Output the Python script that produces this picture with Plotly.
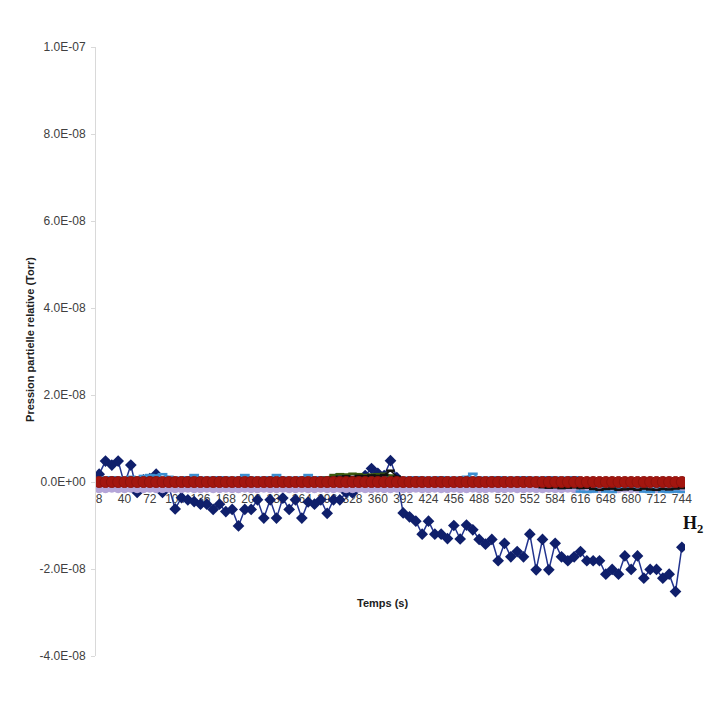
import plotly.graph_objects as go

# Time categories (s)
temps = list(range(8, 745, 8))
tick_labels = [str(v) for v in range(8, 745, 32)]

# H2 partial pressure (units of 1E-09 Torr)
h2 = [1.8, 4.8, 3.9, 4.8, -0.5, 3.9, -2.4, 0.5, 0.8, 1.8, -2.4, -1.0,
      -6.2, -3.6, -4.1, -4.5, -5.1, -5.1, -6.3, -5.1, -6.8, -6.3, -10.1, -6.3,
      -6.3, -4.1, -8.3, -4.1, -8.3, -3.7, -6.3, -4.1, -8.3, -4.6, -5.1, -4.1,
      -7.2, -4.1, -4.1, -2.4, -2.5, 0.5, 1.5, 3.1, 2.0, 1.5, 4.9, 1.0,
      -7.1, -8.0, -9.0, -12.0, -9.0, -12.0, -12.0, -13.0, -10.0, -13.1, -9.9, -11.0,
      -13.2, -14.3, -13.2, -18.1, -14.1, -17.2, -16.0, -17.2, -12.0, -20.2, -13.2, -20.2,
      -14.1, -17.2, -18.1, -17.2, -16.0, -18.1, -18.1, -18.1, -21.2, -20.1, -21.2, -17.0,
      -20.1, -17.0, -22.1, -20.1, -20.1, -22.1, -21.2, -25.2, -15.0]

# other species, near zero (units of 1E-09 Torr)
red_s = [0.0, 0.0, 0.0, 0.0, 0.0, 0.0, 0.0, 0.0, 0.0, 0.0, 0.0, 0.0,
         0.0, 0.0, 0.0, 0.0, 0.0, 0.0, 0.0, 0.0, 0.0, 0.0, 0.0, 0.0,
         0.0, 0.0, 0.0, 0.0, 0.0, 0.0, 0.0, 0.0, 0.0, 0.0, 0.0, 0.0,
         0.0, 0.0, 0.0, 0.0, 0.0, 0.0, 0.0, 0.0, 0.0, 0.0, 0.0, 0.0,
         0.0, 0.0, 0.0, 0.0, 0.0, 0.0, 0.0, 0.0, 0.0, 0.0, 0.0, 0.0,
         0.0, 0.0, 0.0, 0.0, 0.0, 0.0, 0.0, 0.0, 0.0, 0.0, 0.0, 0.0,
         0.0, 0.0, 0.0, 0.0, 0.0, 0.0, 0.0, 0.0, 0.0, 0.0, 0.0, 0.0,
         0.0, 0.0, 0.0, 0.0, 0.0, 0.0, 0.0, 0.0, 0.0]

lavender_s = [-1.3, -1.3, -1.2, -1.3, -1.3, -1.2, -1.3, -1.3, -1.2, -1.3, -1.3, -1.2,
              -1.3, -1.3, -1.2, -1.3, -1.3, -1.2, -1.3, -1.3, -1.2, -1.3, -1.3, -1.2,
              -1.3, -1.3, -1.2, -1.3, -1.3, -1.2, -1.3, -1.3, -1.2, -1.3, -1.3, -1.2,
              -1.3, -1.3, -1.2, -1.3, -1.3, -1.2, -1.3, -1.3, -1.2, -1.3, -1.3, -1.2,
              -1.3, -1.3, -1.2, -1.3, -1.3, -1.2, -1.3, -1.3, -1.2, -1.3, -1.3, -1.2,
              -1.3, -1.3, -1.2, -1.3, -1.3, -1.2, -1.3, -1.3, -1.2, -1.3, -1.3, -1.2,
              -1.3, -1.3, -1.2, -1.3, -1.3, -1.2, -1.3, -1.3, -1.2, -1.3, -1.3, -1.2,
              -1.3, -1.3, -1.2, -1.3, -1.3, -1.2, -1.3, -1.3, -1.2]

lightblue_s = [0.9, 1.0, 1.1, 1.0, 0.9, 1.2, 1.0, 1.4, 1.6, 1.5, 1.8, 1.2,
               0.9, 1.0, 1.1, 1.6, 1.0, 0.9, 1.0, 1.1, 1.0, 0.9, 1.0, 1.6,
               1.0, 0.9, 1.0, 1.1, 1.6, 1.0, 0.9, 1.0, 1.0, 1.6, 1.0, 1.1,
               1.0, 1.2, 1.7, 1.0, 0.9, 1.0, 1.1, 1.0, 0.9, 1.0, 1.1, 1.0,
               0.9, 1.0, 1.1, 1.0, 0.9, 1.0, 1.1, 1.0, 0.9, 1.0, 1.2, 1.9,
               1.0, 0.9, 1.0, 1.1, 1.0, 0.9, 1.0, 1.1, 1.0, 0.9, 1.0, 1.1,
               1.0, 0.9, 1.0, 1.1, -2.2, -2.3, -2.2, 0.0, -2.2, -2.3, -1.5, -1.0,
               -1.5, -1.8, -2.2, -2.3, -1.0, -2.2, -2.3, -2.2, -2.3]

black_s = [0.0, 0.0, 0.0, 0.0, 0.0, 0.0, 0.0, 0.0, 0.0, 0.0, 0.0, 0.0,
           0.0, 0.0, 0.0, 0.0, 0.0, 0.0, 0.0, 0.0, 0.0, 0.0, 0.0, 0.0,
           0.0, 0.0, 0.0, 0.0, 0.0, 0.0, 0.0, 0.0, 0.0, 0.0, 0.0, 0.0,
           0.5, 1.0, 1.2, 1.3, 1.2, 1.4, 1.3, 1.5, 1.4, 1.6, 2.6, 1.2,
           0.0, 0.0, 0.0, 0.0, 0.0, 0.0, 0.0, 0.0, 0.0, 0.0, 0.0, 0.0,
           0.0, 0.0, 0.0, 0.0, 0.0, 0.0, 0.0, 0.0, 0.0, -0.5, -1.2, -1.3,
           -1.2, -1.4, -1.3, -1.2, -1.4, -1.3, -1.6, -1.8, -1.6, -1.5, -1.8, -1.7,
           -1.6, -1.8, -1.5, -1.7, -1.8, -1.6, -1.7, -1.5, -1.4]

green_s = [0.0, 0.0, 0.0, 0.0, 0.0, 0.0, 0.0, 0.0, 0.0, 0.0, 0.0, 0.0,
           0.0, 0.0, 0.0, 0.0, 0.0, 0.0, 0.0, 0.0, 0.0, 0.0, 0.0, 0.0,
           0.0, 0.0, 0.0, 0.0, 0.0, 0.0, 0.0, 0.0, 0.0, 0.0, 0.0, 0.0,
           1.0, 1.6, 1.8, 1.7, 1.9, 1.8, 1.6, 1.7, 1.8, 1.9, 1.5, 0.8,
           0.0, 0.0, 0.0, 0.0, 0.0, 0.0, 0.0, 0.0, 0.0, 0.0, 0.0, 0.0,
           0.0, 0.0, 0.0, 0.0, 0.0, 0.0, 0.0, 0.0, 0.0, 0.0, 0.0, 0.0,
           0.0, 0.0, 0.0, 0.0, 0.0, 0.0, 0.0, 0.0, 0.0, 0.0, 0.0, 0.0,
           0.0, 0.0, 0.0, 0.0, 0.0, 0.0, 0.0, 0.0, 0.0]

SCALE = 1e-9
y_ticks = [-4e-8, -2e-8, 0, 2e-8, 4e-8, 6e-8, 8e-8, 1e-7]
y_tick_text = ["-4.0E-08", "-2.0E-08", "0.0E+00", "2.0E-08", "4.0E-08",
               "6.0E-08", "8.0E-08", "1.0E-07"]

def scaled(vals):
    return [v * SCALE for v in vals]

fig = go.Figure()

fig.add_trace(go.Scatter(x=temps, y=scaled(h2), mode="lines+markers",
                         line=dict(color="#22348f", width=1.5),
                         marker=dict(symbol="diamond", size=9, color="#0f1f6b"),
                         name="H2"))
fig.add_trace(go.Scatter(x=temps, y=scaled(lavender_s), mode="lines+markers",
                         line=dict(color="#b8a9d9", width=2),
                         marker=dict(symbol="circle", size=11, color="#b4a5d8"),
                         name="s2"))
fig.add_trace(go.Scatter(x=temps, y=scaled(lightblue_s), mode="lines+markers",
                         line=dict(color="#3d8fd1", width=1.5),
                         marker=dict(symbol="line-ew", size=7, color="#3d8fd1",
                                     line=dict(color="#3d8fd1", width=2.5)),
                         name="s3"))
fig.add_trace(go.Scatter(x=temps, y=scaled(green_s), mode="lines+markers",
                         line=dict(color="#6b8e23", width=1.5),
                         marker=dict(symbol="line-ew", size=6, color="#3c5a10",
                                     line=dict(color="#3c5a10", width=2.5)),
                         name="s4"))
fig.add_trace(go.Scatter(x=temps, y=scaled(black_s), mode="lines+markers",
                         line=dict(color="#111111", width=1.5),
                         marker=dict(symbol="line-ew", size=6, color="#111111",
                                     line=dict(color="#111111", width=2.5)),
                         name="s5"))
fig.add_trace(go.Scatter(x=temps, y=scaled(red_s), mode="lines+markers",
                         line=dict(color="#a3160f", width=3),
                         marker=dict(symbol="circle", size=11, color="#a3160f",
                                     line=dict(color="#8f120c", width=1)),
                         name="s6"))

y_min, y_max = -4e-8, 1e-7
zero_pos = (0 - y_min) / (y_max - y_min)

fig.update_layout(
    width=705, height=721,
    margin=dict(l=96, r=20, t=47, b=65),
    paper_bgcolor="white", plot_bgcolor="white",
    showlegend=False,
    font=dict(family="Liberation Sans, Arial", color="#404040"),
    xaxis=dict(range=[4, 748], tickmode="array",
               tickvals=list(range(8, 745, 32)), ticktext=tick_labels,
               anchor="free", position=zero_pos,
               showline=True, linecolor="#d0d0d0", linewidth=1,
               showgrid=False, zeroline=False, ticks="",
               ticklabelstandoff=6, layer="below traces",
               tickfont=dict(size=12, color="#404040")),
    yaxis=dict(range=[y_min, y_max], tickmode="array",
               tickvals=y_ticks, ticktext=y_tick_text,
               showline=True, linecolor="#d9d9d9", linewidth=1,
               showgrid=False, zeroline=False,
               ticks="outside", ticklen=4, tickcolor="#d9d9d9",
               ticklabelstandoff=3,
               tickfont=dict(size=12, color="#404040")),
    annotations=[
        dict(text="<b>Temps (s)</b>", x=0.4856, y=0.087, xref="paper", yref="paper",
             showarrow=False, xanchor="center", yanchor="middle",
             font=dict(size=11, color="#202020", family="Liberation Sans, Arial")),
        dict(text="<b>Pression partielle relative (Torr)</b>", x=-0.112, y=0.519,
             xref="paper", yref="paper", showarrow=False, textangle=-90,
             xanchor="center", yanchor="middle",
             font=dict(size=11, color="#202020", family="Liberation Sans, Arial")),
        dict(text="<b>H<sub>2</sub></b>", x=0.994, y=0.2167, xref="paper", yref="paper",
             showarrow=False, xanchor="left", yanchor="middle",
             font=dict(size=18, color="#111111", family="Liberation Serif, Times New Roman")),
    ],
)

fig.write_html("out.html")
